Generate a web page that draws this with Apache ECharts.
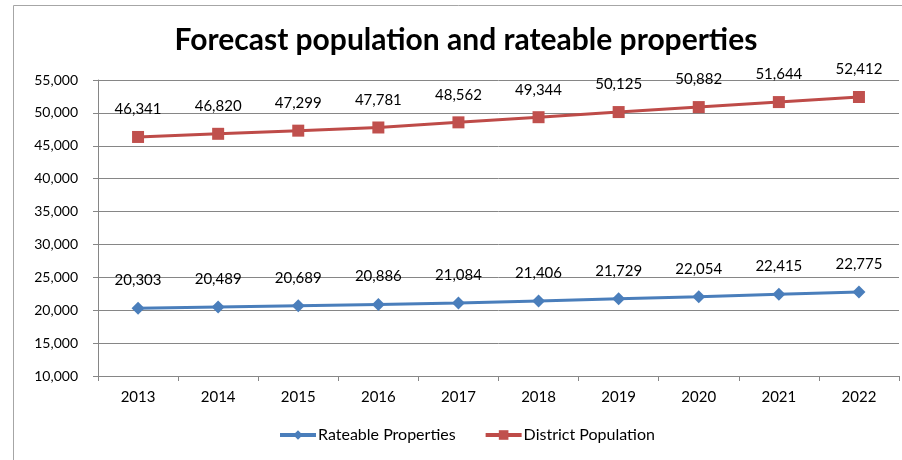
<!DOCTYPE html>
<html>
<head>
<meta charset="utf-8">
<script src="https://cdn.jsdelivr.net/npm/echarts@6/dist/echarts.min.js"></script>
<style>
  html, body { margin: 0; padding: 0; background: #fff; }
  #chart { width: 902px; height: 460px; }
</style>
</head>
<body>
<div id="chart"></div>
<script>
// Forecast years and series values
const years = ['2013', '2014', '2015', '2016', '2017', '2018', '2019', '2020', '2021', '2022'];
const rateableProperties = [20303, 20489, 20689, 20886, 21084, 21406, 21729, 22054, 22415, 22775];
const districtPopulation = [46341, 46820, 47299, 47781, 48562, 49344, 50125, 50882, 51644, 52412];
const yTicks = { min: 10000, max: 55000, step: 5000 };

const FONT = 'Lato, "Open Sans", sans-serif';
const fmt = v => Number(v).toLocaleString('en-US');

const chart = echarts.init(document.getElementById('chart'), null, { renderer: 'canvas' });

chart.setOption({
  animation: false,
  backgroundColor: '#ffffff',
  title: {
    text: 'Forecast population and rateable properties',
    left: 461,
    top: 20,
    textAlign: 'center',
    textStyle: { fontFamily: FONT, fontWeight: 'bold', fontSize: 30, color: '#000' }
  },
  graphic: [{
    type: 'rect',
    shape: { x: 13.5, y: 5.5, width: 900, height: 470 },
    style: { fill: 'none', stroke: '#a6a6a6', lineWidth: 1 },
    silent: true,
    z: -1
  }],
  grid: { left: 98, right: 3, top: 80, bottom: 84 },
  legend: {
    bottom: 12,
    left: 273,
    itemWidth: 36,
    itemHeight: 12,
    itemGap: 28,
    lineStyle: { width: 4 },
    textStyle: { fontFamily: FONT, fontSize: 16, color: '#000', padding: [0, 0, 0, -3] },
    data: ['Rateable Properties', 'District Population']
  },
  xAxis: {
    type: 'category',
    data: years,
    boundaryGap: true,
    axisLine: { lineStyle: { color: '#868686', width: 1 } },
    axisTick: { show: true, length: 5, lineStyle: { color: '#868686' } },
    axisLabel: { fontFamily: FONT, fontSize: 15, color: '#000', margin: 14 }
  },
  yAxis: {
    type: 'value',
    min: yTicks.min,
    max: yTicks.max,
    interval: yTicks.step,
    axisLine: { show: true, lineStyle: { color: '#868686', width: 1 } },
    axisTick: { show: true, length: 5, lineStyle: { color: '#868686' } },
    axisLabel: { fontFamily: FONT, fontSize: 14, color: '#000', margin: 20, formatter: fmt },
    splitLine: { lineStyle: { color: '#868686', width: 1 } }
  },
  series: [
    {
      name: 'Rateable Properties',
      type: 'line',
      data: rateableProperties,
      symbol: 'diamond',
      symbolSize: 13,
      lineStyle: { color: '#4a7ebb', width: 3 },
      itemStyle: { color: '#4a7ebb' },
      label: {
        show: true, position: 'top', distance: 14,
        fontFamily: FONT, fontSize: 15, color: '#000',
        formatter: p => fmt(p.value)
      }
    },
    {
      name: 'District Population',
      type: 'line',
      data: districtPopulation,
      symbol: 'rect',
      symbolSize: 12,
      lineStyle: { color: '#be4b48', width: 3 },
      itemStyle: { color: '#c0504d' },
      label: {
        show: true, position: 'top', distance: 14,
        fontFamily: FONT, fontSize: 15, color: '#000',
        formatter: p => fmt(p.value)
      }
    }
  ]
});
</script>
</body>
</html>
